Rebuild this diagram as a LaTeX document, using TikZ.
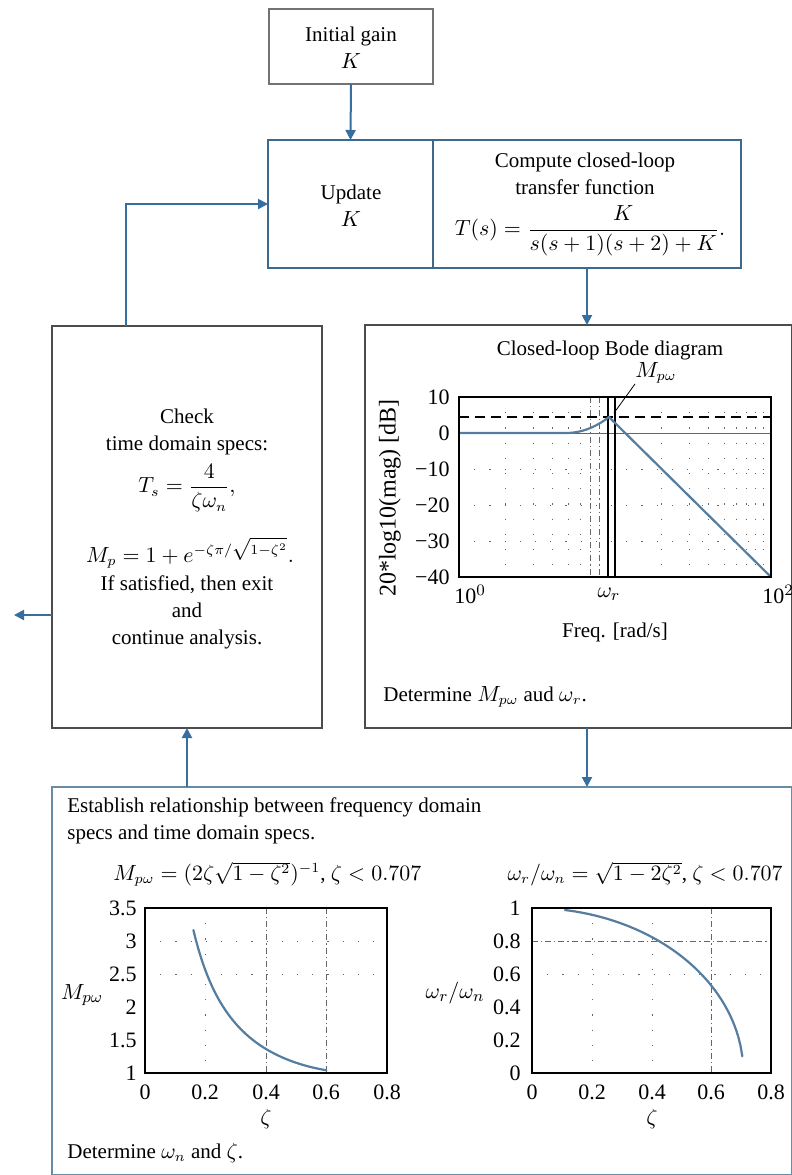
\documentclass[tikz,border=0pt]{standalone}
\usepackage{amsmath}
\usepackage{fontspec}
\setmainfont{Liberation Serif}
\usetikzlibrary{arrows.meta}
\definecolor{conn}{RGB}{55,110,160}
\definecolor{bigc}{RGB}{60,105,140}
\definecolor{curvec}{RGB}{85,125,160}
\definecolor{botc}{RGB}{105,140,165}
\begin{document}
\begin{tikzpicture}[x=0.5pt,y=-0.5pt,
  every node/.style={font=\fontsize{10.5}{13.5}\selectfont},
  box/.style={draw=#1, inner sep=0pt, outer sep=0pt, line width=0.6pt},
  flow/.style={draw=conn, line width=1pt, -{Triangle[length=5pt,width=5pt]}},
  txt/.style={align=center, inner sep=0pt},
  tick/.style={font=\fontsize{11}{13}\selectfont, inner sep=1pt},
  gridd/.style={black!60, line width=0.5pt, dash pattern=on 0.6pt off 7pt},
  gridda/.style={black!60, line width=0.4pt, dash pattern=on 3pt off 1.5pt on 0.6pt off 1.5pt},
  curve/.style={draw=curvec, line width=1.1pt, line cap=round}]
\useasboundingbox[fill=white] (0,0) rectangle (792,1175);

% ---------- boxes
\node[box=black!55, minimum width=82pt, minimum height=37.5pt] (init) at (351,46.5) {};
\node[box=bigc, line width=1.3pt, minimum width=82.5pt, minimum height=64pt] (update) at (350.5,204) {};
\node[box=bigc, line width=1.3pt, minimum width=154pt, minimum height=64pt] (compute) at (587,204) {};
\node[box=black!70, minimum width=135pt, minimum height=201pt] (check) at (187,527) {};
\node[box=black!70, minimum width=213.5pt, minimum height=201.5pt] (bode) at (578.5,526.5) {};
\node[box=botc, minimum width=370pt, minimum height=194pt] (est) at (422,981) {};

% ---------- connectors
\coordinate (fb) at (126,0);
\coordinate (exit) at (14,615);
\draw[flow] (init.south) -- (update.north);
\draw[flow] (compute.south) -- (compute.south |- bode.north);
\draw[flow] (bode.south -| compute.south) -- (compute.south |- est.north);
\draw[flow] (check.south |- est.north) -- (check.south);
\draw[flow] (check.north -| fb) |- (update.west);
\draw[flow] (check.west |- exit) -- (exit);

% ---------- texts in upper boxes
\node[txt] at (351,48) {Initial gain\\ $K$};
\node[txt] at (351,206) {Update\\ $K$};
\node[txt] at (585,174) {Compute closed-loop\\ transfer function};
\node[txt] at (590,231) {$T(s) = \dfrac{K}{s(s+1)(s+2)+K}.$};

% ---------- check box
\node[txt] at (187,432) {Check\\ time domain specs:};
\node[txt] at (187,488) {$T_s = \dfrac{4}{\zeta\omega_n},$};
\node[txt] at (190,553) {$M_p = 1 + e^{-\zeta\pi/\sqrt{1-\zeta^2}}.$};
\node[txt] at (187,612) {If satisfied, then exit\\ and\\ continue analysis.};

% ---------- Bode diagram
\node[txt] at (610,350) {Closed-loop Bode diagram};
\foreach \yy in {469,505,541} \draw[gridd] (459,\yy) -- (771,\yy);
\foreach \w in {2,3,4,5,6,20,30,40,50,60,70,80,90}
  \draw[gridd] ({459+156*log10(\w)},397) -- ++(0,180);
\draw[gridda] ({459+156*log10(7)},397) -- ++(0,180);
\draw[gridda] ({459+156*log10(8)},397) -- ++(0,180);
\draw[black!60, line width=0.5pt] (459,433) -- (771,433);
\draw[black, line width=0.7pt, dash pattern=on 5pt off 3pt] (459,417) -- (771,417);
\draw[black, line width=0.9pt] (608,397) -- (608,577);
\draw[black, line width=0.9pt] (615,397) -- (615,577);
\draw[curve] (459,433) -- (566,433) .. controls (585,433) and (600,424) .. (609,417) -- (771,577);
\draw[line width=0.7pt] (459,397) rectangle (771,577);
\node[txt] (mpw) at (656,373) {$M_{p\omega}$};
\coordinate (pk) at (614,413);
\draw[line width=0.4pt] (mpw.south west) -- (pk);
\node[tick,anchor=east] at (452,397) {10};
\node[tick,anchor=east] at (452,433) {0};
\node[tick,anchor=east] at (452,469) {−10};
\node[tick,anchor=east] at (452,505) {−20};
\node[tick,anchor=east] at (452,541) {−30};
\node[tick,anchor=east] at (452,577) {−40};
\node[tick] at (470,594) {10$^0$};
\node[tick] at (609,594) {$\omega_r$};
\node[tick] at (778,594) {10$^2$};
\node[txt] at (615,632) {Freq. [rad/s]};
\node[txt, rotate=90, font=\fontsize{12}{14}\selectfont] at (390,498) {20*log10(mag) [dB]};
\node[txt, anchor=west] at (383,697) {Determine $M_{p\omega}$ aud $\omega_r$.};

% ---------- bottom box
\node[txt, align=left, anchor=north west] at (67,797) {Establish relationship between frequency domain\\ specs and time domain specs.};
\node[txt, anchor=west] at (113,874) {$M_{p\omega} = (2\zeta\sqrt{1-\zeta^2})^{-1}$, $\zeta < 0.707$};
\node[txt, anchor=east] at (783,874) {$\omega_r/\omega_n = \sqrt{1-2\zeta^2}$, $\zeta < 0.707$};

% left plot
\draw[gridd] (145,941) -- (387,941);
\draw[gridd] (145,974) -- (387,974);
\draw[gridd] (205,908) -- (205,1073);
\draw[gridda] (266,908) -- (266,1073);
\draw[gridda] (326,908) -- (326,1073);
\draw[curve] plot[domain=0.16:0.6, samples=60] ({145+302.5*\x},{1073-66*(1/(2*\x*sqrt(1-\x*\x))-1)});
\draw[line width=0.6pt] (145,908) rectangle (387,1073);
\foreach \v/\yy in {3.5/908,3/941,2.5/974,2/1007,1.5/1040,1/1073}
  \node[tick,anchor=east] at (139,\yy) {\v};
\foreach \v/\xx in {0/145,0.2/205,0.4/266,0.6/326,0.8/387}
  \node[tick] at (\xx,1092) {\v};
\node[tick] at (266,1119) {$\zeta$};
\node[tick] at (82,995) {$M_{p\omega}$};

% right plot
\draw[gridda] (532,941) -- (771,941);
\draw[gridd] (532,974) -- (771,974);
\draw[gridd] (592,908) -- (592,1073);
\draw[gridd] (652,908) -- (652,1073);
\draw[gridda] (711,908) -- (711,1073);
\draw[curve] plot[domain=0.11:0.7035, samples=90] ({532+299*\x},{1073-165*sqrt(1-2*\x*\x)});
\draw[line width=0.6pt] (532,908) rectangle (771,1073);
\foreach \v/\yy in {1/908,0.8/941,0.6/974,0.4/1007,0.2/1040,0/1073}
  \node[tick,anchor=east] at (523,\yy) {\v};
\foreach \v/\xx in {0/532,0.2/592,0.4/652,0.6/711,0.8/771}
  \node[tick] at (\xx,1092) {\v};
\node[tick] at (652,1119) {$\zeta$};
\node[tick] at (455,993) {$\omega_r/\omega_n$};

\node[txt, anchor=west] at (67,1153) {Determine $\omega_n$ and $\zeta$.};
\end{tikzpicture}
\end{document}
